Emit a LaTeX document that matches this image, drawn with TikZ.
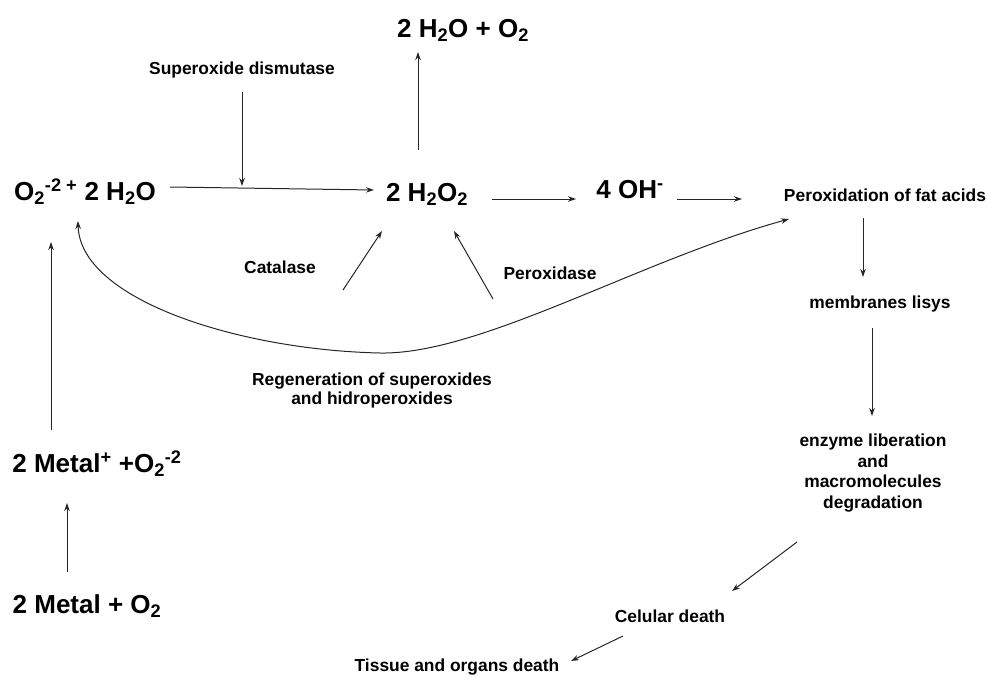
\documentclass[tikz,border=0pt]{standalone}
\usepackage{fontspec}
\setmainfont{Liberation Sans}
\usetikzlibrary{arrows.meta}
\tikzset{
  small/.style={font=\fontsize{17.4}{19}\selectfont\bfseries, inner sep=0pt, align=center},
  big/.style={font=\fontsize{26}{30}\selectfont\bfseries, inner sep=0pt},
  arr/.style={draw=black!85, line width=1pt, -{Stealth[length=8pt,width=5.5pt]}},
}
\begin{document}
\begin{tikzpicture}[x=1pt,y=-1pt]
\useasboundingbox (0,0) rectangle (988,677);
% nodes
\node[big]   (top)   at (463,30)  {2 H\textsubscript{2}O + O\textsubscript{2}};
\node[small] (sod)   at (242,70)  {Superoxide dismutase};
\node[big]   (o2)    at (85,192)  {O\textsubscript{2}\textsuperscript{-2 +} 2 H\textsubscript{2}O};
\node[big]   (h2o2)  at (427,194) {2 H\textsubscript{2}O\textsubscript{2}};
\node[big]   (oh)    at (630,190) {4 OH\textsuperscript{-}};
\node[small] (perox) at (885,195) {Peroxidation of fat acids};
\node[small] (cat)   at (280,267) {Catalase};
\node[small] (pox)   at (550,273) {Peroxidase};
\node[small] (memb)  at (880,304) {membranes lisys};
\node[small] (regen) at (372,390) {Regeneration of superoxides\\and hidroperoxides};
\node[big]   (m1)    at (97,464)  {2 Metal\textsuperscript{+} +O\textsubscript{2}\textsuperscript{-2}};
\node[small,font=\fontsize{17.4}{20.5}\selectfont\bfseries] (enz) at (873,473) {enzyme liberation\\and\\macromolecules\\degradation};
\node[big]   (m0)    at (87,606)  {2 Metal + O\textsubscript{2}};
\node[small] (cel)   at (670,616) {Celular death};
\node[small] (tis)   at (457,667) {Tissue and organs death};
% connector end points
\coordinate (a1s) at (418,150); \coordinate (a1e) at (418,52);
\coordinate (a2s) at (242,92);  \coordinate (a2e) at (242,186);
\coordinate (a3s) at (170,187); \coordinate (a3e) at (374,190);
\coordinate (a4s) at (492,199); \coordinate (a4e) at (576,199);
\coordinate (a5s) at (677,199); \coordinate (a5e) at (742,199);
\coordinate (a6s) at (343,290); \coordinate (a6e) at (382,231);
\coordinate (a7s) at (493,299); \coordinate (a7e) at (454,231);
\coordinate (a8s) at (51,430);  \coordinate (a8e) at (51,242);
\coordinate (a9s) at (67,572);  \coordinate (a9e) at (67,503);
\coordinate (b1s) at (863,218); \coordinate (b1e) at (863,277);
\coordinate (b2s) at (872,328); \coordinate (b2e) at (872,416);
\coordinate (b3s) at (797,542); \coordinate (b3e) at (732,591);
\coordinate (b4s) at (623,636); \coordinate (b4e) at (571,661);
\coordinate (cvl) at (78,221);  \coordinate (cvm) at (380,353); \coordinate (cvr) at (789,219);
% connectors
\draw[arr] (a1s) -- (a1e);
\draw[arr] (a2s) -- (a2e);
\draw[arr] (a3s) -- (a3e);
\draw[arr] (a4s) -- (a4e);
\draw[arr] (a5s) -- (a5e);
\draw[arr] (a6s) -- (a6e);
\draw[arr] (a7s) -- (a7e);
\draw[arr] (a8s) -- (a8e);
\draw[arr] (a9s) -- (a9e);
\draw[arr] (b1s) -- (b1e);
\draw[arr] (b2s) -- (b2e);
\draw[arr] (b3s) -- (b3e);
\draw[arr] (b4s) -- (b4e);
\draw[arr, {Stealth[length=8pt,width=5.5pt]}-{Stealth[length=8pt,width=5.5pt]}]
  (cvl) .. controls (80,300) and (240,350) .. (cvm)
        .. controls (480,355) and (640,260) .. (cvr);
\end{tikzpicture}
\end{document}
